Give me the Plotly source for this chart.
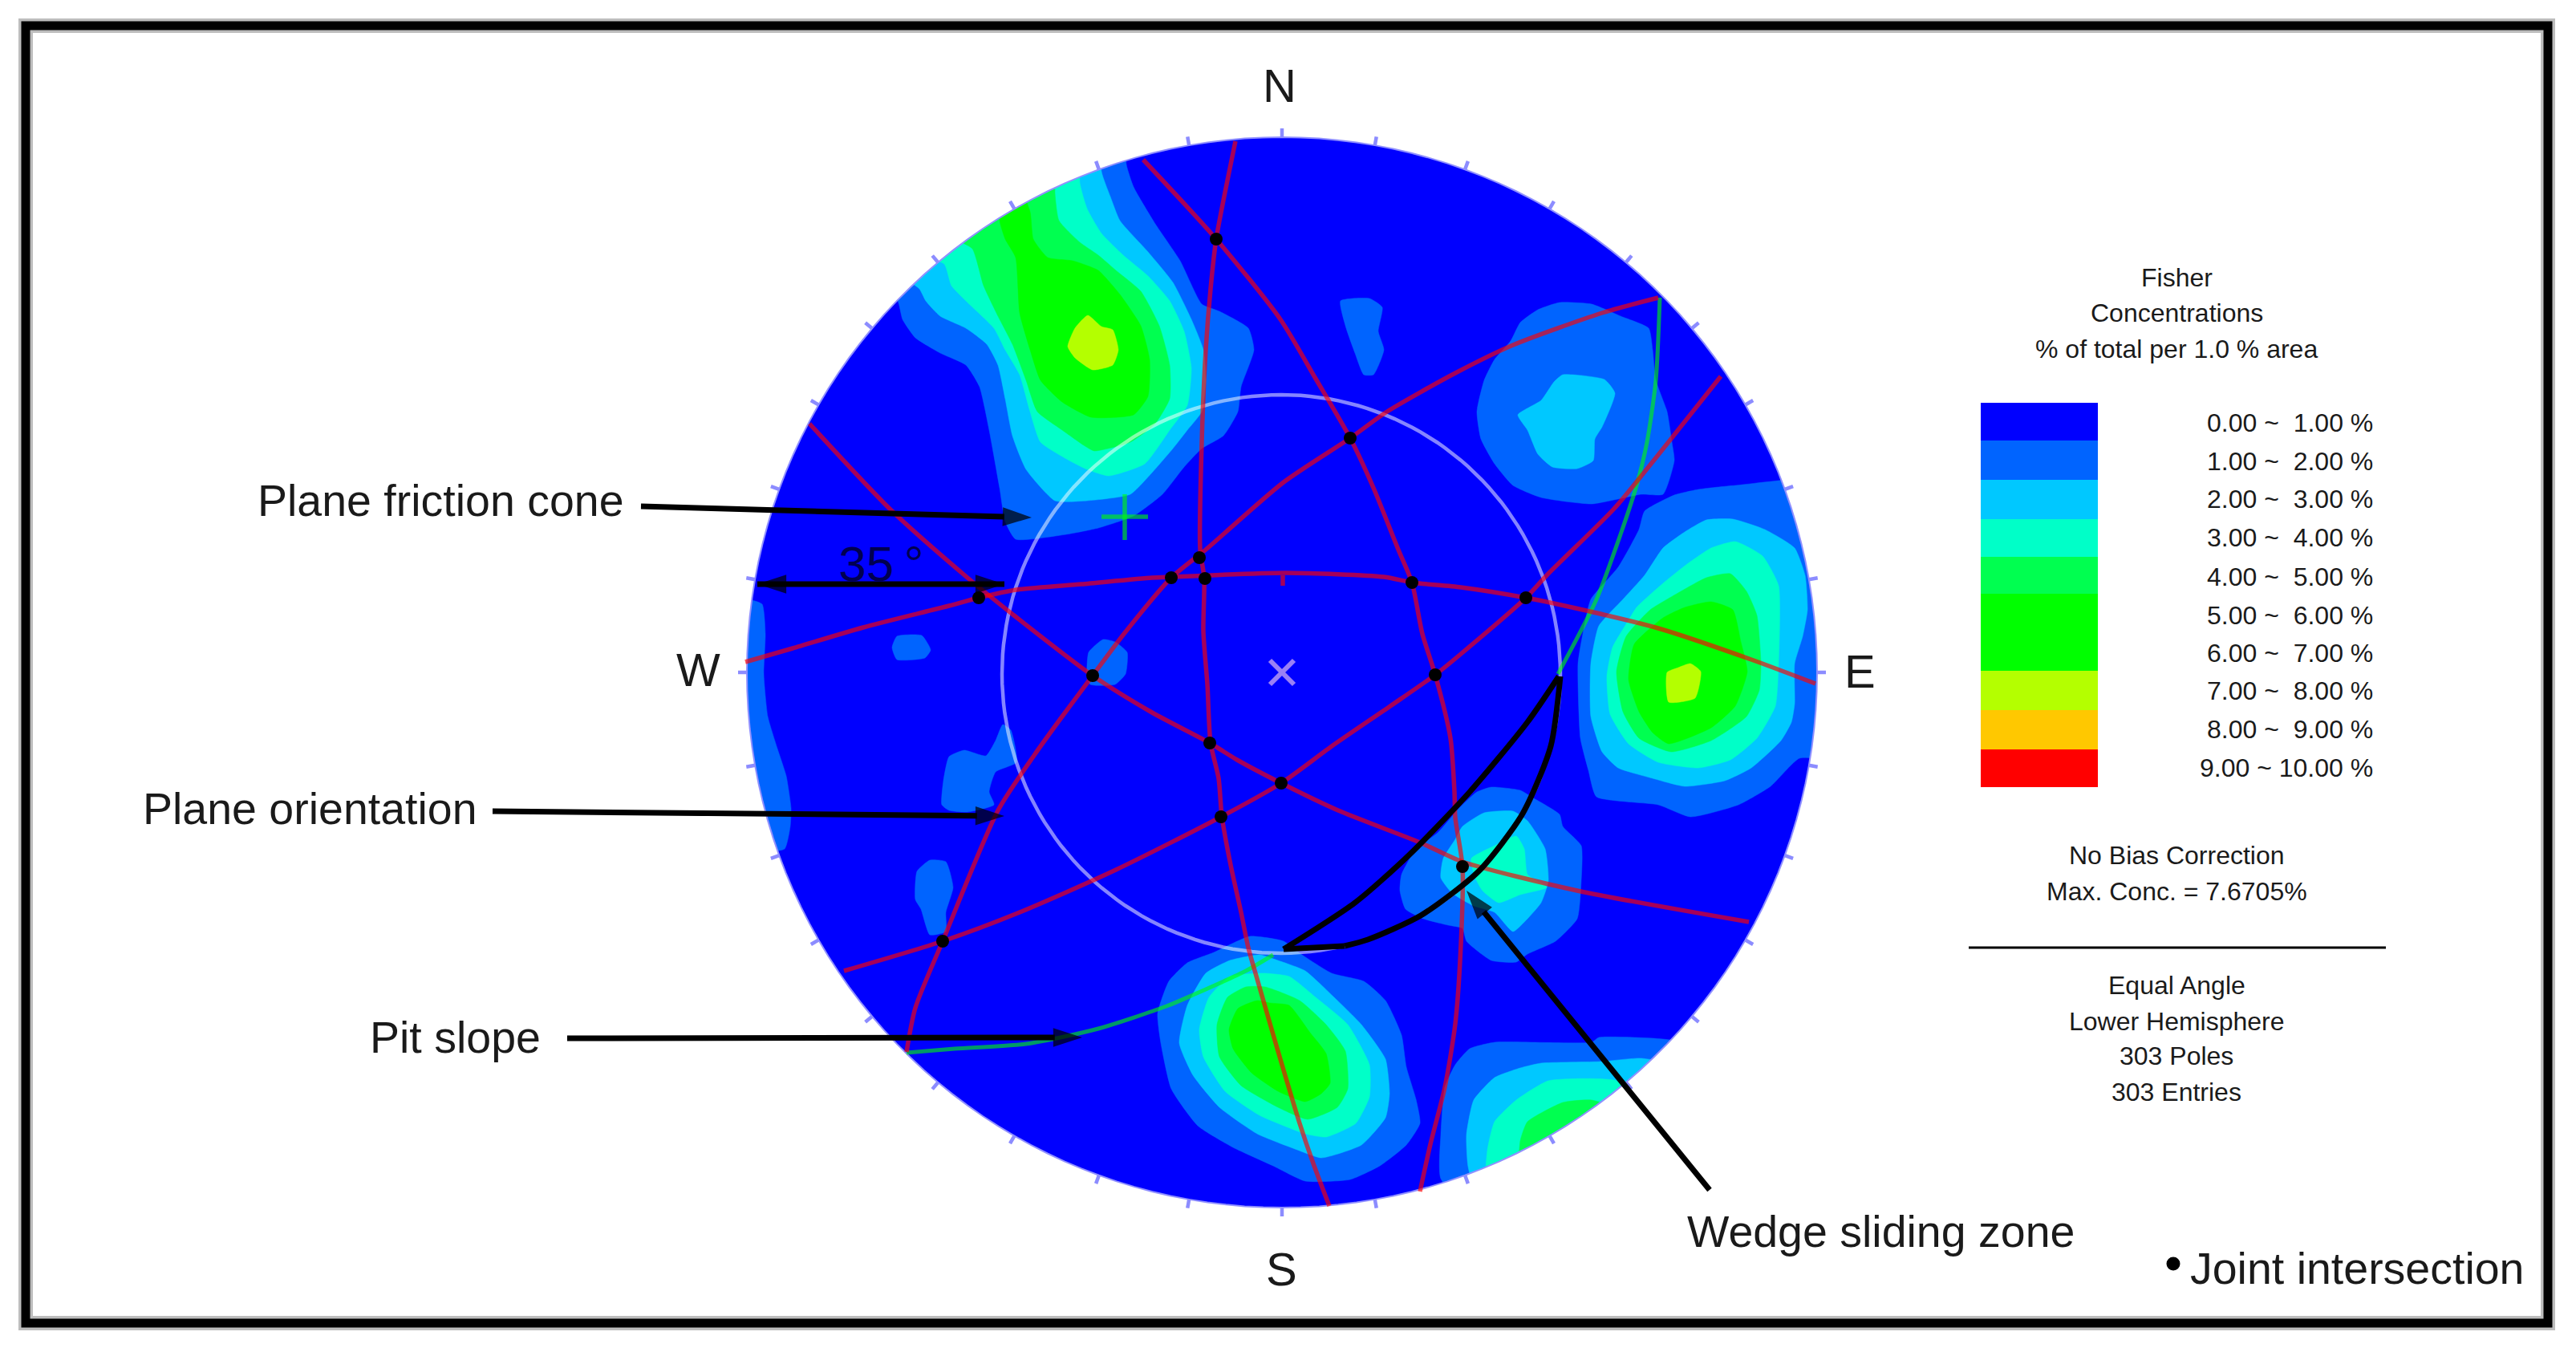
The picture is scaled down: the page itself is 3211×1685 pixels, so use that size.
import math
import plotly.graph_objects as go

W, H = 3211, 1685
NET_X, NET_Y, NET_R = 1598, 838, 667
CONE_X, CONE_Y, CONE_R = 1597, 840, 348
TEXT_FONT = "Liberation Sans"

LEVEL_LABELS = ["0.00 ~\u00a0\u00a01.00 %", "1.00 ~\u00a0\u00a02.00 %", "2.00 ~\u00a0\u00a03.00 %",
                "3.00 ~\u00a0\u00a04.00 %", "4.00 ~\u00a0\u00a05.00 %", "5.00 ~\u00a0\u00a06.00 %",
                "6.00 ~\u00a0\u00a07.00 %", "7.00 ~\u00a0\u00a08.00 %", "8.00 ~\u00a0\u00a09.00 %",
                "9.00 ~ 10.00 %"]
LEVEL_COLORS = ["#0000ff", "#0064ff", "#00c8ff", "#00ffc8", "#00ff50",
                "#00ff00", "#00ff00", "#b4ff00", "#ffc800", "#ff0000"]

# Contour outlines; the number is the lower band value.
NW_1 = [(1404,205),(1413,233),(1440,279),(1471,325),(1498,379),(1520,388),(1556,409),(1563,436),(1547,482),(1543,513),(1525,543),(1498,559),(1476,582),(1449,616),(1413,643),(1369,658),(1329,666),(1266,672),(1253,650),(1246,608),(1233,536),(1221,482),(1204,455),(1172,440),(1141,421),(1125,398),(1119,375),(1090,350),(1250,130),(1400,130)]
NW_2 = [(1373,214),(1384,245),(1396,275),(1431,314),(1462,352),(1485,398),(1500,436),(1503,474),(1498,513),(1480,536),(1462,559),(1436,589),(1409,616),(1355,624),(1315,624),(1279,585),(1262,543),(1253,497),(1244,455),(1230,429),(1204,409),(1172,394),(1154,375),(1146,360),(1110,330),(1250,130),(1370,130)]
NW_3 = [(1346,228),(1355,260),(1373,291),(1400,318),(1431,344),(1458,375),(1476,413),(1485,459),(1480,505),(1458,536),(1427,578),(1382,593),(1355,585),(1333,574),(1297,551),(1284,513),(1271,467),(1253,436),(1239,409),(1204,375),(1186,356),(1177,329),(1130,310),(1250,130),(1345,130)]
NW_4 = [(1315,241),(1320,275),(1346,302),(1369,318),(1391,337),(1422,363),(1445,406),(1458,455),(1458,497),(1440,528),(1409,551),(1364,562),(1351,555),(1324,536),(1293,513),(1279,474),(1262,429),(1244,394),(1226,356),(1212,310),(1180,290),(1260,130),(1315,130)]
NW_5 = [(1284,264),(1288,298),(1306,321),(1337,325),(1369,337),(1396,367),(1422,406),(1433,448),(1431,494),(1413,517),(1360,520),(1324,501),(1297,474),(1284,436),(1271,390),(1266,321),(1253,298),(1246,274),(1257,200)]
NW_7 = [(1356,393),(1373,407),(1387,411),(1394,436),(1387,455),(1362,461),(1340,446),(1331,432),(1340,409)]
N_PATCH_1 = [(1671,375),(1707,372),(1723,383),(1718,413),(1725,436),(1712,467),(1700,467),(1689,440),(1678,409)]
NE_1 = [(1944,377),(1984,379),(2020,394),(2055,409),(2060,436),(2064,474),(2078,513),(2084,551),(2087,574),(2073,616),(2046,616),(1984,628),(1921,620),(1886,605),(1863,578),(1846,547),(1841,513),(1850,474),(1863,448),(1883,425),(1895,402),(1917,386)]
NE_2 = [(1948,467),(2000,473),(2013,490),(1997,532),(1988,547),(1986,574),(1966,584),(1935,582),(1917,566),(1904,536),(1892,517),(1921,499),(1937,476)]
E_1 = [(2117,610),(2163,605),(2300,600),(2320,800),(2300,945),(2243,945),(2207,980),(2167,1003),(2107,1018),(2067,1003),(1990,993),(1980,960),(1970,920),(1967,827),(1973,790),(1983,747),(2017,707),(2043,660),(2050,637),(2087,617)]
E_2 = [(2100,663),(2127,648),(2160,647),(2200,660),(2237,683),(2250,717),(2253,760),(2247,793),(2237,827),(2237,877),(2233,900),(2220,923),(2183,957),(2150,973),(2100,980),(2060,970),(2017,957),(1997,937),(1983,893),(1983,827),(1993,780),(2023,747),(2050,717),(2073,683)]
E_3 = [(2133,683),(2163,675),(2197,693),(2217,730),(2217,827),(2213,880),(2190,920),(2157,947),(2117,957),(2067,950),(2030,927),(2007,890),(2003,843),(2010,807),(2030,773),(2040,757),(2073,727),(2103,703)]
E_4 = [(2157,715),(2177,737),(2190,767),(2195,827),(2193,860),(2177,893),(2133,923),(2083,937),(2043,920),(2023,887),(2015,837),(2027,793),(2057,760),(2090,740),(2127,720)]
E_5 = [(2133,750),(2160,760),(2170,800),(2178,837),(2163,880),(2133,907),(2080,927),(2060,913),(2043,887),(2030,847),(2037,803),(2073,770),(2100,757)]
E_7 = [(2107,827),(2120,837),(2113,870),(2080,875),(2078,838),(2092,832)]
S_1 = [(1558,1167),(1600,1173),(1623,1190),(1660,1213),(1700,1223),(1727,1247),(1747,1290),(1753,1330),(1765,1370),(1770,1400),(1753,1427),(1720,1453),(1683,1470),(1627,1472),(1587,1453),(1537,1430),(1493,1403),(1460,1357),(1447,1300),(1443,1263),(1457,1223),(1480,1200),(1513,1187)]
S_2 = [(1570,1190),(1593,1197),(1627,1210),(1663,1243),(1697,1277),(1727,1320),(1732,1363),(1727,1393),(1697,1427),(1647,1443),(1617,1433),(1567,1413),(1520,1380),(1487,1340),(1470,1300),(1480,1253),(1503,1213),(1533,1197)]
S_3 = [(1575,1213),(1607,1217),(1640,1243),(1680,1277),(1707,1327),(1707,1367),(1690,1400),(1653,1417),(1627,1413),(1570,1390),(1527,1360),(1500,1317),(1495,1283),(1507,1243),(1533,1217)]
S_4 = [(1577,1230),(1620,1247),(1653,1277),(1677,1310),(1680,1357),(1667,1380),(1630,1395),(1593,1380),(1547,1353),(1520,1317),(1517,1277),(1530,1243),(1553,1230)]
S_5 = [(1583,1250),(1607,1253),(1633,1287),(1653,1313),(1658,1350),(1647,1363),(1627,1373),(1593,1360),(1560,1337),(1537,1307),(1532,1283),(1543,1257),(1567,1247)]
WEDGE_1 = [(1859,981),(1895,985),(1912,995),(1944,1015),(1948,1030),(1971,1054),(1971,1098),(1966,1145),(1939,1173),(1904,1189),(1890,1199),(1859,1197),(1828,1173),(1823,1157),(1805,1153),(1774,1145),(1752,1133),(1745,1110),(1747,1090),(1765,1058),(1792,1038),(1819,1007),(1841,987)]
WEDGE_2 = [(1850,1013),(1886,1011),(1904,1023),(1926,1058),(1930,1098),(1921,1125),(1904,1145),(1886,1161),(1863,1137),(1837,1129),(1810,1113),(1796,1094),(1799,1070),(1814,1046),(1823,1030)]
WEDGE_3 = [(1834,1070),(1863,1054),(1890,1042),(1900,1058),(1904,1090),(1928,1106),(1895,1115),(1868,1125),(1848,1110),(1839,1094)]
SE_1 = [(1863,1299),(1984,1299),(1993,1293),(2073,1295),(2150,1311),(2040,1480),(1868,1540),(1796,1469),(1796,1414),(1801,1355),(1814,1327),(1832,1307)]
SE_2 = [(1921,1325),(1997,1323),(2046,1319),(2110,1335),(1990,1480),(1846,1500),(1830,1454),(1828,1414),(1837,1371),(1863,1343),(1895,1331)]
SE_3 = [(1930,1347),(2015,1347),(2040,1374),(1950,1480),(1854,1490),(1854,1434),(1863,1398),(1890,1371)]
SE_4 = [(1948,1374),(1984,1371),(2020,1385),(1940,1470),(1895,1470),(1895,1422),(1904,1398)]
W_STRIP_1 = [(934,747),(950,753),(954,790),(952,840),(957,893),(969,933),(980,967),(986,1007),(985,1030),(978,1058),(950,1060),(880,900),(900,740)]
W_PATCH_1 = [(1112,807),(1118,793),(1149,792),(1160,810),(1153,820),(1118,822)]
SW_PATCH_1 = [(1174,1003),(1176,973),(1183,943),(1202,935),(1229,942),(1241,923),(1250,903),(1260,910),(1267,950),(1241,962),(1233,987),(1239,1003),(1206,1012),(1183,1010)]
SW_PATCH_2 = [(1143,1086),(1159,1072),(1179,1074),(1188,1106),(1179,1137),(1179,1161),(1159,1165),(1148,1133),(1141,1121)]
MID_PATCH_1 = [(1357,813),(1375,797),(1390,800),(1405,813),(1403,840),(1390,853),(1359,853),(1355,840)]

CONTOURS = [
    (NW_1, 1), (NW_2, 2), (NW_3, 3), (NW_4, 4), (NW_5, 5), (NW_7, 7),
    (N_PATCH_1, 1), (NE_1, 1), (NE_2, 2),
    (E_1, 1), (E_2, 2), (E_3, 3), (E_4, 4), (E_5, 5), (E_7, 7),
    (S_1, 1), (S_2, 2), (S_3, 3), (S_4, 4), (S_5, 5),
    (WEDGE_1, 1), (WEDGE_2, 2), (WEDGE_3, 3),
    (SE_1, 1), (SE_2, 2), (SE_3, 3), (SE_4, 4),
    (W_STRIP_1, 1), (W_PATCH_1, 1), (SW_PATCH_1, 1), (SW_PATCH_2, 1), (MID_PATCH_1, 1),
]

PLANE_A = [(1540,176),(1516,298),(1509,360),(1503,436),(1498,551),(1496,685),(1501,720),(1500,787),(1505,853),(1509,926),(1519,970),(1523,1017),(1534,1078),(1547,1137),(1556,1181),(1567,1220),(1593,1310),(1620,1400),(1637,1450),(1657,1503)]
PLANE_B = [(1425,199),(1516,298),(1596,398),(1640,472),(1683,546),(1712,608),(1743,685),(1760,726),(1773,790),(1789,841),(1808,920),(1813,987),(1814,1019),(1823,1080),(1821,1177),(1814,1276),(1801,1355),(1783,1426),(1770,1485)]
PLANE_C = [(2067,371),(1997,390),(1886,430),(1814,465),(1729,513),(1683,546),(1600,601),(1503,685),(1460,720),(1401,790),(1362,842),(1321,897),(1290,940),(1244,1010),(1175,1173),(1141,1256),(1130,1311)]
PLANE_D = [(1009,528),(1110,635),(1206,720),(1264,767),(1362,842),(1436,888),(1508,926),(1542,947),(1597,976),(1668,1010),(1770,1050),(1823,1074),(1966,1110),(2180,1149)]
PLANE_E = [(929,825),(988,808),(1076,782),(1183,755),(1220,745),(1267,735),(1348,728),(1436,720),(1460,719),(1603,714),(1725,719),(1760,726),(1821,732),(1902,745),(1986,763),(2067,783),(2183,822),(2263,852)]
PLANE_F = [(2145,469),(2046,593),(2011,635),(1928,717),(1902,745),(1821,815),(1789,841),(1733,880),(1660,930),(1597,976),(1522,1018),(1391,1084),(1271,1137),(1175,1173),(1052,1210)]
PLANES = [PLANE_A, PLANE_B, PLANE_C, PLANE_D, PLANE_E, PLANE_F]
CENTER_TICK = [(1599,717),(1599,730)]

SLOPE_UPPER = [(2069,371),(2064,474),(2053,551),(2040,605),(2020,666),(1990,747),(1942,840)]
SLOPE_LOWER = [(1587,1190),(1553,1210),(1487,1240),(1454,1254),(1369,1282),(1279,1301),(1190,1307),(1130,1312)]
FRICTION_H = [(1373,644),(1431,644)]
FRICTION_V = [(1402,616),(1402,673)]

JOINTS_X = [1516,1683,1495,1460,1502,1760,1902,1789,1362,1220,1508,1597,1522,1175,1823]
JOINTS_Y = [298,546,695,720,721,726,745,841,842,745,926,976,1018,1173,1080]

WEDGE_UPPER = [(1943,843),(1904,900),(1832,987),(1756,1066),(1689,1125),(1600,1183)]
WEDGE_LOWER = [(1945,843),(1933,930),(1898,1014),(1843,1086),(1771,1141),(1705,1171),(1676,1179)]
WEDGE_FOOT = [(1676,1179),(1600,1183)]

ARROWS = [
    [(799,631),(1286,645)],
    [(614,1011),(1252,1017)],
    [(707,1294),(1349,1293)],
    [(2131,1483),(1828,1110)],
]
SPAN_35 = [(944,728),(1252,728)]

BIG_LABELS = [
    ("Plane friction cone", 319, 624),
    ("Plane orientation", 176, 1008),
    ("Pit slope", 459, 1293),
    ("Wedge sliding zone", 2101, 1535),
    ("Joint intersection", 2728, 1581),
]
COMPASS = [("N", 1595, 106), ("S", 1597, 1581), ("W", 870, 834), ("E", 2318, 836)]
TITLE_LINES = [("Fisher", 346), ("Concentrations", 390), ("% of total per 1.0 % area", 435)]
NOTE_LINES = [("No Bias Correction", 1066), ("Max. Conc. = 7.6705%", 1111)]
INFO_LINES = [("Equal Angle", 1228), ("Lower Hemisphere", 1273), ("303 Poles", 1316), ("303 Entries", 1361)]
LEVEL_TEXT_Y = [527, 575, 622, 670, 719, 767, 814, 861, 909, 957]
BAR_EDGES = [502, 549, 598, 647, 694, 740, 788, 836, 885, 934, 981]

fig = go.Figure()


def xs(p):
    return [q[0] for q in p]


def ys(p):
    return [q[1] for q in p]


def ring(cx, cy, r, start=0, stop=360, step=2):
    n = int(abs(stop - start) / step)
    a = [math.radians(start + (stop - start) * i / n) for i in range(n + 1)]
    return [cx + r * math.cos(t) for t in a], [cy + r * math.sin(t) for t in a]


def line(p, color, width, smooth=True):
    fig.add_trace(go.Scatter(x=xs(p), y=ys(p), mode="lines",
                             line=dict(color=color, width=width,
                                       shape="spline" if smooth else "linear",
                                       smoothing=0.7 if smooth else None),
                             hoverinfo="skip"))


# Net disc
cx_, cy_ = ring(NET_X, NET_Y, NET_R)
fig.add_trace(go.Scatter(x=cx_, y=cy_, mode="lines", fill="toself", fillcolor="#0000ff",
                         line=dict(width=0), hoverinfo="skip"))
# Density bands
for poly, level in CONTOURS:
    fig.add_trace(go.Scatter(x=xs(poly) + [poly[0][0]], y=ys(poly) + [poly[0][1]], mode="lines",
                             fill="toself", fillcolor=LEVEL_COLORS[level],
                             line=dict(color=LEVEL_COLORS[level], width=0.5, shape="spline", smoothing=0.5),
                             hoverinfo="skip"))
# White mask trims the bands at the net edge (stops short of the legend ramp)
ox, oy = ring(NET_X, NET_Y, 860, 0, 360)
ix, iy = ring(NET_X, NET_Y, NET_R, 360, 0)
fig.add_trace(go.Scatter(x=ox + ix, y=oy + iy, mode="lines", fill="toself", fillcolor="white",
                         line=dict(width=0), hoverinfo="skip"))
fig.add_trace(go.Scatter(x=cx_, y=cy_, mode="lines", line=dict(color="#9090ff", width=2), hoverinfo="skip"))

# Degree ticks around the net
tx, ty = [], []
for deg in range(0, 360, 10):
    t = math.radians(deg)
    tx += [NET_X + NET_R * math.cos(t), NET_X + (NET_R + 11) * math.cos(t), None]
    ty += [NET_Y + NET_R * math.sin(t), NET_Y + (NET_R + 11) * math.sin(t), None]
fig.add_trace(go.Scatter(x=tx, y=ty, mode="lines", line=dict(color="#8c8cff", width=4.5), hoverinfo="skip"))

# Friction cone, pit slope, planes
ccx, ccy = ring(CONE_X, CONE_Y, CONE_R)
fig.add_trace(go.Scatter(x=ccx, y=ccy, mode="lines",
                         line=dict(color="rgba(255,255,255,0.52)", width=4.5), hoverinfo="skip"))
for p in (SLOPE_UPPER, SLOPE_LOWER):
    line(p, "rgba(0,255,0,0.6)", 5)
for p in (FRICTION_H, FRICTION_V):
    line(p, "rgba(0,255,0,0.6)", 5.5, smooth=False)
for p in PLANES:
    line(p, "rgba(255,0,0,0.65)", 5.5)
line(CENTER_TICK, "rgba(255,0,0,0.65)", 5.5, smooth=False)

# Pole mark and joint intersections
fig.add_trace(go.Scatter(x=[NET_X], y=[NET_Y], mode="markers",
                         marker=dict(symbol="x-thin", size=30, line=dict(color="#9a80f5", width=6)),
                         hoverinfo="skip"))
fig.add_trace(go.Scatter(x=JOINTS_X, y=JOINTS_Y, mode="markers",
                         marker=dict(color="black", size=16, symbol="circle"), hoverinfo="skip"))

# Wedge zone
for p in (WEDGE_UPPER, WEDGE_LOWER, WEDGE_FOOT):
    line(p, "black", 7)

# Call-out arrows
for p in ARROWS:
    fig.add_trace(go.Scatter(x=xs(p), y=ys(p), mode="lines+markers",
                             line=dict(color="black", width=7),
                             marker=dict(symbol=["circle", "arrow"], size=[0, 38], color="black",
                                         angleref="previous", line=dict(width=0)),
                             hoverinfo="skip"))
fig.add_trace(go.Scatter(x=xs(SPAN_35), y=ys(SPAN_35), mode="lines+markers",
                         line=dict(color="black", width=7),
                         marker=dict(symbol=["arrow", "arrow"], size=[38, 38], color="black",
                                     angle=[-90, 90], line=dict(width=0)),
                         hoverinfo="skip"))
fig.add_trace(go.Scatter(x=[2709], y=[1575], mode="markers",
                         marker=dict(color="black", size=17), hoverinfo="skip"))

# Legend ramp
fig.add_trace(go.Bar(x=[2542] * 10, y=[b - a for a, b in zip(BAR_EDGES, BAR_EDGES[1:])], base=BAR_EDGES[:-1],
                     width=146, marker=dict(color=LEVEL_COLORS, line=dict(width=0)), hoverinfo="skip"))
fig.add_trace(go.Scatter(x=[2454, 2974], y=[1181, 1181], mode="lines",
                         line=dict(color="black", width=3), hoverinfo="skip"))

ann = []
for text, x, y in BIG_LABELS:
    ann.append(dict(x=x, y=y, text=text, xanchor="left", yanchor="middle",
                    font=dict(size=55.5, color="#1a1a1a", family=TEXT_FONT)))
for text, x, y in COMPASS:
    ann.append(dict(x=x, y=y, text=text, xanchor="center", yanchor="middle",
                    font=dict(size=58, color="#1a1a1a", family=TEXT_FONT)))
ann.append(dict(x=1043, y=702, text="35\u2009°", xanchor="left", yanchor="middle",
                font=dict(size=62, color="#000050", family=TEXT_FONT)))
for text, y in TITLE_LINES + NOTE_LINES + INFO_LINES:
    ann.append(dict(x=2713, y=y, text=text, xanchor="center", yanchor="middle",
                    font=dict(size=32, color="#1a1a1a", family=TEXT_FONT)))
for text, y in zip(LEVEL_LABELS, LEVEL_TEXT_Y):
    ann.append(dict(x=2960, y=y, text=text, xanchor="right", yanchor="middle",
                    font=dict(size=32, color="#1a1a1a", family=TEXT_FONT)))
for a in ann:
    a.update(xref="x", yref="y", showarrow=False)

FRAME = dict(type="rect", xref="x", yref="y", x0=32, y0=32, x1=3176, y1=1649)
shapes = [dict(FRAME, line=dict(color="#bdbdbd", width=18), layer="above"),
          dict(FRAME, line=dict(color="black", width=11), layer="above")]

fig.update_layout(
    width=W, height=H, margin=dict(l=0, r=0, t=0, b=0, pad=0),
    paper_bgcolor="white", plot_bgcolor="white", showlegend=False, barmode="overlay",
    xaxis=dict(range=[0, W], visible=False, fixedrange=True, domain=[0, 1]),
    yaxis=dict(range=[H, 0], visible=False, fixedrange=True, domain=[0, 1]),
    annotations=ann, shapes=shapes,
)
fig.write_html("out.html", config=dict(displayModeBar=False),
               post_script="document.body.style.margin='0';document.body.style.overflow='hidden';")
